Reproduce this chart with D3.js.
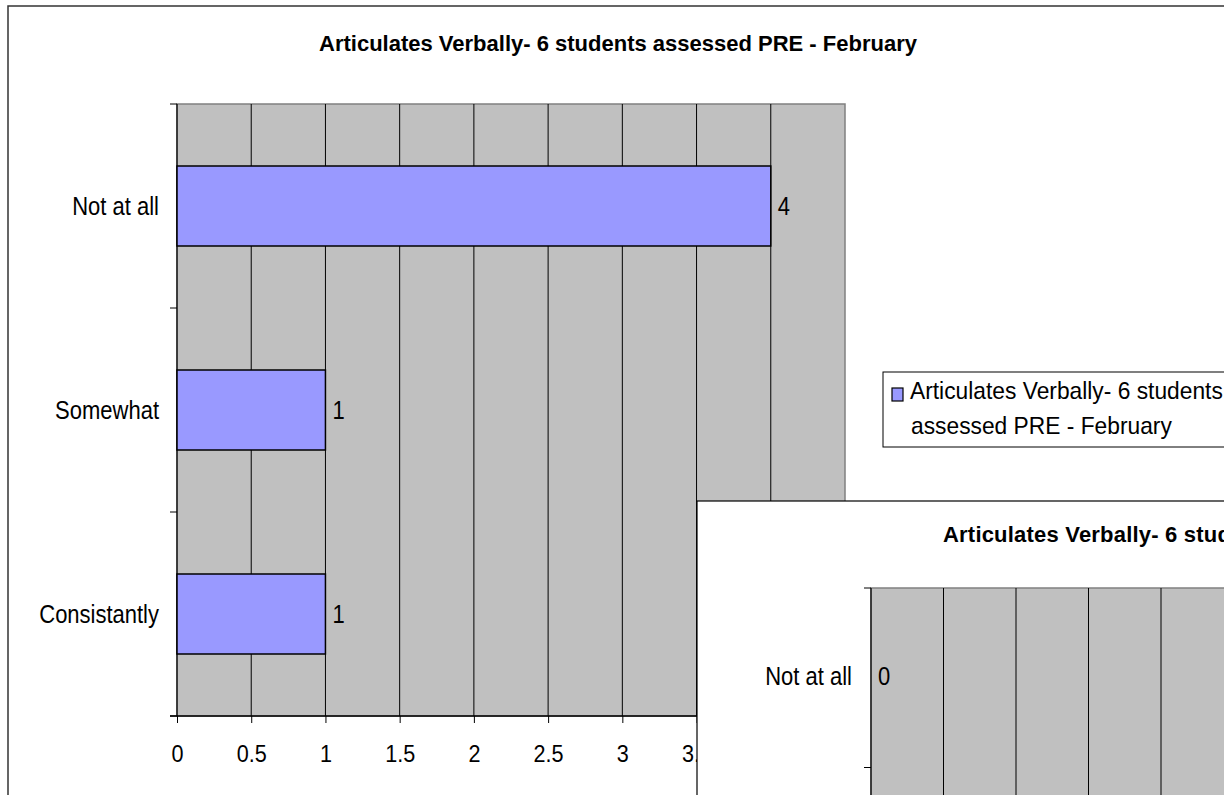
<!DOCTYPE html>
<html>
<head>
<meta charset="utf-8">
<script src="https://cdn.jsdelivr.net/npm/d3@7"></script>
<style>
  html, body { margin: 0; padding: 0; background: #fff; overflow: hidden; }
  svg text { font-family: "Liberation Sans", Arial, sans-serif; fill: #000; }
</style>
</head>
<body>
<div id="chart"></div>
<script>
// data
const categories = ["Not at all", "Somewhat", "Consistantly"];
const preValues = [4, 1, 1];
const postValues = [0];
const xTicks = [0, 0.5, 1, 1.5, 2, 2.5, 3, 3.5, 4, 4.5];
const preTitle = "Articulates Verbally- 6 students assessed PRE - February";
const legendLines = ["Articulates Verbally- 6 students", "assessed PRE - February"];
const postTitle = "Articulates Verbally- 6 students";

const barColor = "#9999ff",
  plotColor = "#c0c0c0";

// the excel text is a bit narrow and tall
const narrow = 0.88;

const svg = d3
  .select("#chart")
  .append("svg")
  .attr("width", 1224)
  .attr("height", 795);

// text squeezed horizontally around its anchor point
const squeezedText = (sel, x, y, size, sx) =>
  sel
    .attr("transform", (d, i) => `translate(${x(d, i)},${y(d, i)}) scale(${sx},1)`)
    .style("font-size", size + "px");

// draw one excel-like horizontal bar chart block
const drawPlot = (g, opts) => {
  let { x, y, values, barRatio, labelRight, dy } = opts;
  let [x0, x1] = x.range();
  let [y0, y1] = y.range();
  let shown = categories.slice(0, values.length);

  g.append("rect")
    .attr("x", x0)
    .attr("y", y0)
    .attr("width", x1 - x0)
    .attr("height", y1 - y0)
    .attr("fill", plotColor)
    .attr("stroke", "#808080")
    .attr("stroke-width", 1.5);

  // vertical gridlines
  g.append("g")
    .selectAll("line")
    .data(xTicks.filter(d => d > 0 && d < x.domain()[1]))
    .enter()
    .append("line")
    .attr("x1", d => x(d))
    .attr("x2", d => x(d))
    .attr("y1", y0)
    .attr("y2", y1)
    .attr("stroke", "#000")
    .attr("stroke-width", 1);

  // left axis line + ticks at band edges
  g.append("line")
    .attr("x1", x0)
    .attr("x2", x0)
    .attr("y1", y0)
    .attr("y2", y1)
    .attr("stroke", "#000")
    .attr("stroke-width", 1.2);
  let edges = categories.map(c => y(c)).concat([y1]);
  g.append("g")
    .selectAll("line")
    .data(edges)
    .enter()
    .append("line")
    .attr("x1", x0 - 7)
    .attr("x2", x0)
    .attr("y1", d => d)
    .attr("y2", d => d)
    .attr("stroke", "#000");

  // bars
  let barH = y.bandwidth() * barRatio;
  g.append("g")
    .selectAll("rect")
    .data(values)
    .enter()
    .append("rect")
    .attr("x", x0)
    .attr("y", (d, i) => y(categories[i]) + (y.bandwidth() - barH) / 2)
    .attr("width", d => x(d) - x0)
    .attr("height", barH)
    .attr("fill", barColor)
    .attr("stroke", "#000")
    .attr("stroke-width", 1.5)
    .style("display", d => (d > 0 ? null : "none"));

  // value labels
  g.append("g")
    .selectAll("text")
    .data(values)
    .enter()
    .append("text")
    .call(
      squeezedText,
      d => x(d) + 7,
      (d, i) => y(categories[i]) + y.bandwidth() / 2 + dy,
      25,
      narrow
    )
    .text(d => d);

  // category labels
  g.append("g")
    .selectAll("text")
    .data(shown)
    .enter()
    .append("text")
    .attr("text-anchor", "end")
    .call(squeezedText, () => labelRight, d => y(d) + y.bandwidth() / 2 + dy, 25, narrow)
    .text(d => d);
};

// ---- chart 1 (PRE) ----
const chart1 = svg.append("g");
chart1
  .append("rect")
  .attr("x", 8)
  .attr("y", 6)
  .attr("width", 1220)
  .attr("height", 900)
  .attr("fill", "#fff")
  .attr("stroke", "#333")
  .attr("stroke-width", 1.5);

chart1
  .append("text")
  .attr("x", 618)
  .attr("y", 51)
  .attr("text-anchor", "middle")
  .style("font-size", "22px")
  .style("font-weight", "bold")
  .text(preTitle);

const x1 = d3.scaleLinear().domain([0, 4.5]).range([177, 845]);
const y1 = d3.scaleBand().domain(categories).range([104, 716]);

drawPlot(chart1, { x: x1, y: y1, values: preValues, barRatio: 80 / 204, labelRight: 159, dy: 8.5 });

// bottom axis
const xAxis = chart1
  .append("g")
  .attr("transform", "translate(0,716)")
  .call(
    d3
      .axisBottom(x1)
      .tickValues(xTicks)
      .tickSize(7)
      .tickSizeOuter(0)
      .tickPadding(22)
      .tickFormat(d3.format(""))
  );
xAxis.select(".domain").remove();
xAxis.selectAll("line").attr("stroke", "#000");
xAxis
  .selectAll("text")
  .attr("transform", "scale(0.9,1)")
  .style("font-size", "24px")
  .style("font-family", '"Liberation Sans", Arial, sans-serif');
chart1
  .append("line")
  .attr("x1", 170)
  .attr("x2", 845)
  .attr("y1", 716)
  .attr("y2", 716)
  .attr("stroke", "#000")
  .attr("stroke-width", 1.5);

// legend
const legend = chart1.append("g");
legend
  .append("rect")
  .attr("x", 883)
  .attr("y", 372)
  .attr("width", 400)
  .attr("height", 75)
  .attr("fill", "#fff")
  .attr("stroke", "#000");
legend
  .append("rect")
  .attr("x", 892)
  .attr("y", 388)
  .attr("width", 11)
  .attr("height", 13)
  .attr("fill", barColor)
  .attr("stroke", "#000")
  .attr("stroke-width", 1.2);
legend
  .selectAll("text")
  .data(legendLines)
  .enter()
  .append("text")
  .call(squeezedText, (d, i) => (i === 0 ? 910 : 911), (d, i) => 399 + i * 35, 24, 0.95)
  .text(d => d);

// ---- chart 2 (overlapping, cut off) ----
const chart2 = svg.append("g");
chart2
  .append("rect")
  .attr("x", 697)
  .attr("y", 501)
  .attr("width", 1100)
  .attr("height", 600)
  .attr("fill", "#fff")
  .attr("stroke", "#000")
  .attr("stroke-width", 1.2);

chart2
  .append("text")
  .attr("x", 943)
  .attr("y", 542)
  .style("font-size", "22px")
  .style("font-weight", "bold")
  .style("letter-spacing", "0.2px")
  .text(postTitle);

const x2 = d3.scaleLinear().domain([0, 4.5]).range([871, 871 + 9 * 72.5]);
const y2 = d3.scaleBand().domain(categories).range([588, 588 + 3 * 179.5]);

drawPlot(chart2, { x: x2, y: y2, values: postValues, barRatio: 80 / 204, labelRight: 852, dy: 7.5 });
</script>
</body>
</html>
